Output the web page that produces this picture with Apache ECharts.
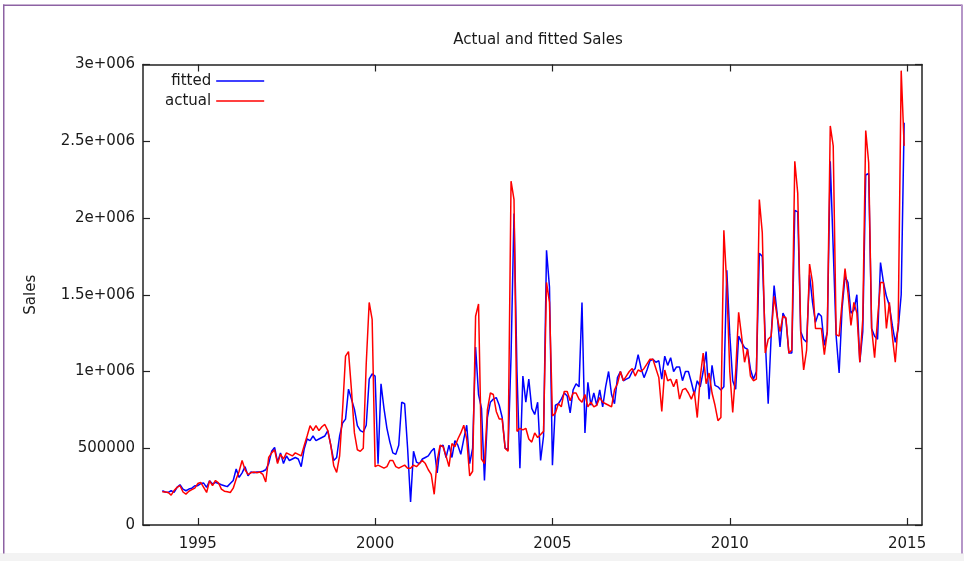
<!DOCTYPE html>
<html>
<head>
<meta charset="utf-8">
<title>Actual and fitted Sales</title>
<script src="https://cdn.jsdelivr.net/npm/echarts@6/dist/echarts.min.js"></script>
<style>
  html, body { margin: 0; padding: 0; background: #ffffff; }
  #chart { width: 964px; height: 561px; }
</style>
</head>
<body>
<div id="chart"></div>
<script>
// Monthly series, January 1994 to December 2014 (one row per year).
const startYear = 1994;

const actual = [
  217000, 215000, 212000, 195000, 225000, 245000, 256000, 215000, 201000, 220000, 230000, 240000,
  270000, 278000, 245000, 212000, 288000, 256000, 290000, 275000, 234000, 220000, 217000, 212000,
  240000, 300000, 350000, 420000, 360000, 330000, 340000, 345000, 340000, 345000, 330000, 280000,
  440000, 470000, 490000, 400000, 460000, 430000, 470000, 460000, 450000, 470000, 460000, 450000,
  516000, 580000, 647000, 615000, 647000, 615000, 640000, 655000, 615000, 520000, 386000, 343000,
  450000, 750000, 1100000, 1130000, 880000, 600000, 490000, 480000, 500000, 1050000, 1450000, 1340000,
  380000, 390000, 380000, 370000, 380000, 420000, 420000, 380000, 370000, 380000, 390000, 370000,
  370000, 390000, 380000, 400000, 420000, 400000, 360000, 330000, 200000, 420000, 520000, 510000,
  450000, 380000, 530000, 510000, 560000, 600000, 650000, 560000, 320000, 350000, 1360000, 1440000,
  430000, 400000, 750000, 860000, 850000, 740000, 690000, 690000, 500000, 480000, 2240000, 2120000,
  610000, 630000, 620000, 630000, 560000, 540000, 600000, 570000, 590000, 610000, 1580000, 1450000,
  710000, 730000, 790000, 770000, 870000, 870000, 810000, 860000, 860000, 820000, 800000, 850000,
  770000, 800000, 770000, 780000, 830000, 800000, 790000, 780000, 770000, 880000, 920000, 1000000,
  940000, 970000, 1000000, 1020000, 970000, 1010000, 1000000, 1020000, 1050000, 1080000, 1080000, 1020000,
  960000, 740000, 1010000, 940000, 950000, 900000, 950000, 820000, 880000, 890000, 860000, 820000,
  870000, 700000, 960000, 1120000, 920000, 990000, 860000, 780000, 680000, 700000, 1920000, 1560000,
  1000000, 733000, 1000000, 1385000, 1230000, 1060000, 1145000, 970000, 940000, 950000, 2120000, 1905000,
  1120000, 1210000, 1230000, 1490000, 1360000, 1260000, 1360000, 1350000, 1120000, 1140000, 2370000, 2160000,
  1260000, 1010000, 1140000, 1700000, 1580000, 1280000, 1280000, 1280000, 1110000, 1260000, 2600000, 2470000,
  1240000, 1230000, 1450000, 1670000, 1510000, 1300000, 1450000, 1380000, 1060000, 1340000, 2570000, 2360000,
  1280000, 1090000, 1340000, 1580000, 1580000, 1280000, 1450000, 1230000, 1060000, 1320000, 2960000, 2470000
];

const fitted = [
  223000, 215000, 212000, 223000, 212000, 245000, 262000, 234000, 223000, 234000, 240000, 256000,
  256000, 270000, 273000, 245000, 288000, 267000, 278000, 270000, 262000, 256000, 250000, 270000,
  290000, 365000, 310000, 340000, 380000, 320000, 345000, 340000, 345000, 345000, 350000, 360000,
  400000, 480000, 505000, 410000, 470000, 400000, 450000, 420000, 430000, 440000, 430000, 380000,
  495000, 560000, 550000, 580000, 550000, 560000, 570000, 580000, 615000, 520000, 420000, 440000,
  580000, 665000, 690000, 885000, 820000, 755000, 647000, 615000, 605000, 650000, 950000, 985000,
  970000, 400000, 920000, 760000, 630000, 540000, 470000, 460000, 520000, 800000, 790000, 500000,
  150000, 480000, 410000, 400000, 430000, 440000, 450000, 480000, 500000, 340000, 510000, 520000,
  440000, 520000, 440000, 550000, 520000, 460000, 560000, 650000, 400000, 500000, 1160000, 850000,
  760000, 290000, 700000, 800000, 820000, 830000, 780000, 700000, 500000, 490000, 1100000, 2030000,
  1000000, 370000, 970000, 800000, 950000, 760000, 720000, 800000, 420000, 580000, 1790000, 1550000,
  390000, 780000, 790000, 820000, 860000, 840000, 730000, 880000, 920000, 900000, 1450000, 600000,
  930000, 780000, 860000, 780000, 880000, 770000, 900000, 1000000, 850000, 790000, 960000, 1000000,
  940000, 950000, 960000, 1000000, 1020000, 1110000, 1020000, 960000, 1010000, 1070000, 1080000, 1060000,
  1070000, 950000, 1100000, 1040000, 1090000, 1000000, 1030000, 1030000, 940000, 1000000, 1000000, 930000,
  850000, 940000, 900000, 1000000, 1130000, 820000, 1040000, 910000, 900000, 880000, 900000, 1660000,
  1240000, 940000, 885000, 1230000, 1190000, 1155000, 1145000, 1015000, 950000, 1000000, 1770000, 1750000,
  1210000, 790000, 1230000, 1560000, 1380000, 1160000, 1380000, 1340000, 1120000, 1120000, 2050000, 2040000,
  1260000, 1210000, 1190000, 1630000, 1450000, 1320000, 1380000, 1360000, 1170000, 1260000, 2370000, 1800000,
  1230000, 990000, 1410000, 1620000, 1580000, 1380000, 1400000, 1500000, 1060000, 1260000, 2280000, 2290000,
  1280000, 1230000, 1210000, 1710000, 1580000, 1490000, 1430000, 1300000, 1190000, 1280000, 1500000, 2620000
];

const xTicks = [1995, 2000, 2005, 2010, 2015];
const yTickLabels = {
  0: '0', 500000: '500000', 1000000: '1e+006', 1500000: '1.5e+006',
  2000000: '2e+006', 2500000: '2.5e+006', 3000000: '3e+006'
};

// Decimal-year position of each monthly observation.
const toPairs = arr => arr.map((v, i) => [startYear + i / 12, v]);

const FONT = 'DejaVu Sans';
const INK = '#1a1a1a';
const AXIS = '#222222';

const chart = echarts.init(document.getElementById('chart'), null, { renderer: 'canvas' });

const baseX = {
  type: 'value', min: 1993.456, max: 2015.42,
  axisLine: { show: true, onZero: false, lineStyle: { color: AXIS, width: 1.5 } },
  axisTick: { show: true, inside: true, length: 7, customValues: xTicks, lineStyle: { color: AXIS, width: 1.2 } },
  splitLine: { show: false }
};
const baseY = {
  type: 'value', min: 0, max: 3000000, interval: 500000,
  axisLine: { show: true, onZero: false, lineStyle: { color: AXIS, width: 1.5 } },
  axisTick: { show: true, inside: true, length: 7, lineStyle: { color: AXIS, width: 1.2 } },
  splitLine: { show: false }
};

chart.setOption({
  animation: false,
  backgroundColor: '#ffffff',
  title: {
    text: 'Actual and fitted Sales',
    left: 533, top: 28, textAlign: 'center',
    textStyle: { fontFamily: FONT, fontSize: 15, fontWeight: 'normal', color: INK }
  },
  legend: {
    data: ['fitted', 'actual'],
    orient: 'vertical', align: 'right',
    left: 160, top: 67,
    icon: 'rect',
    itemWidth: 48, itemHeight: 1.6, itemGap: 2,
    textStyle: { fontFamily: FONT, fontSize: 15, color: INK, lineHeight: 18 }
  },
  grid: { left: 143, right: 42, top: 64.5, bottom: 36, containLabel: false },
  xAxis: [
    Object.assign({}, baseX, {
      position: 'bottom',
      axisLabel: { show: true, customValues: xTicks, margin: 12, fontFamily: FONT, fontSize: 15, color: INK,
                   formatter: v => String(v) }
    }),
    Object.assign({}, baseX, { position: 'top', axisLabel: { show: false } })
  ],
  yAxis: [
    Object.assign({}, baseY, {
      position: 'left',
      name: 'Sales', nameLocation: 'middle', nameGap: 104, nameRotate: 90,
      nameTextStyle: { fontFamily: FONT, fontSize: 15, color: INK },
      axisLabel: { show: true, margin: 8, fontFamily: FONT, fontSize: 15, color: INK,
                   formatter: v => yTickLabels[v] !== undefined ? yTickLabels[v] : String(v) }
    }),
    Object.assign({}, baseY, { position: 'right', axisLabel: { show: false } })
  ],
  series: [
    {
      name: 'fitted', type: 'line', data: toPairs(fitted),
      xAxisIndex: 0, yAxisIndex: 0,
      symbol: 'none', smooth: false,
      lineStyle: { color: '#0000ff', width: 1.5 }, itemStyle: { color: '#0000ff' }
    },
    {
      name: 'actual', type: 'line', data: toPairs(actual),
      xAxisIndex: 0, yAxisIndex: 0,
      symbol: 'none', smooth: false,
      lineStyle: { color: '#ff0000', width: 1.5 }, itemStyle: { color: '#ff0000' }
    }
  ],
  graphic: [
    // window frame and bottom strip
    { type: 'rect', silent: true, z: -1, shape: { x: 0, y: 553, width: 964, height: 8 }, style: { fill: '#f3f3f3' } },
    { type: 'rect', silent: true, shape: { x: 3, y: 4.5, width: 959, height: 1.5 }, style: { fill: '#8d62a3' } },
    { type: 'rect', silent: true, shape: { x: 3, y: 4.5, width: 1.5, height: 549 }, style: { fill: '#8d62a3' } },
    { type: 'rect', silent: true, shape: { x: 961, y: 4.5, width: 2, height: 549 }, style: { fill: '#b596c8' } }
  ]
});
</script>
</body>
</html>
